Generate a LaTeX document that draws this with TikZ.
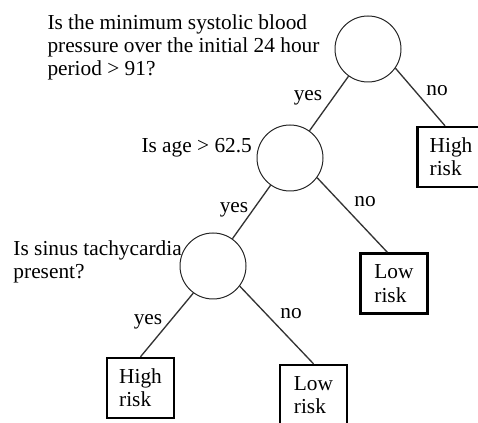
\documentclass[tikz,border=0pt]{standalone}
\usepackage{fontspec}
\setmainfont{Liberation Serif}

\tikzset{every picture/.style={line width=0.75pt}}
\tikzset{
  every node/.style={font=\fontsize{16}{17.5}\selectfont},
  test/.style={draw=black!85, circle, minimum size=49.5pt, inner sep=0pt},
  leaf/.style={draw, line width=1.8pt, minimum width=50pt, minimum height=45pt, align=left, inner sep=0pt},
  edge/.style={draw=black!80, line width=1pt},
  branch/.style={inner sep=0.75pt}
}

\begin{document}
\begin{tikzpicture}[x=0.75pt,y=0.75pt,yscale=-1,xscale=1]
\useasboundingbox (0,0) rectangle (478,423);
%Shape: Circle [root]
\draw (368,49) node [test] (c1) {};
%Shape: Circle [age]
\draw (290,158) node [test] (c2) {};
%Shape: Circle [sinus]
\draw (213,266) node [test] (c3) {};

%Shape: Rectangle [leaves]
\draw (451,157) node [leaf] (hr1) {High\\risk};
\draw (394,283.5) node [leaf] (lr1) {Low\\risk};
\draw (140.5,388) node [leaf] (hr2) {High\\risk};
\draw (313.5,395) node [leaf] (lr2) {Low\\risk};

%Straight Lines
\path [edge] (c1) -- (c2);
\path [edge] (c1.-35) -- ([xshift=-4.5pt]hr1.north);
\path [edge] (c2) -- (c3);
\path [edge] (c2.-36) -- ([xshift=-5pt]lr1.north);
\path [edge] (c3.-126) -- (hr2.north);
\path [edge] (c3.-37) -- (lr2.north);

% Text Node
\draw (47,14) node [anchor=north west][inner sep=0pt, align=left] (q1) {Is the minimum systolic blood\\pressure over the initial 24 hour\\period > 91?};
% Text Node
\draw (141,153) node [anchor=base west][inner sep=0pt] (q2) {Is age > 62.5};
% Text Node
\draw (13,240) node [anchor=north west][inner sep=0pt, align=left] (q3) {Is sinus tachycardia\\present?};

% Text Node
\draw (308,98) node [branch] (yes1) {yes};
\draw (437,91) node [branch] (no1) {no};
\draw (234,210) node [branch] (yes2) {yes};
\draw (365,202) node [branch] (no2) {no};
\draw (148,322) node [branch] (yes3) {yes};
\draw (291,314) node [branch] (no3) {no};
\end{tikzpicture}
\end{document}
